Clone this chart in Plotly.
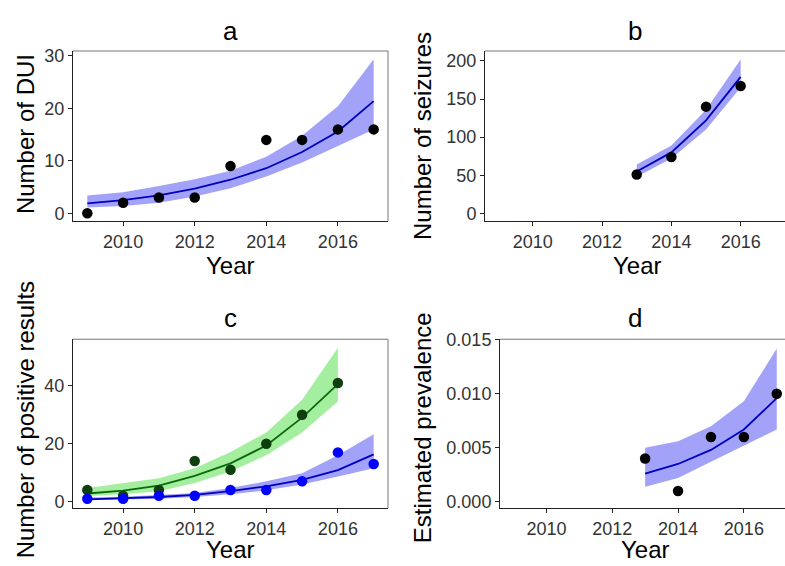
import plotly.graph_objects as go

# panel a: DUI
years_a = [2009, 2010, 2011, 2012, 2013, 2014, 2015, 2016, 2017]
dui_obs = [0, 2, 3, 3, 9, 14, 14, 16, 16]
dui_fit = [1.9, 2.5, 3.4, 4.7, 6.4, 8.6, 11.7, 15.6, 21.4]
dui_lo = [1.1, 1.4, 2.0, 3.2, 4.8, 7.0, 9.7, 12.8, 16.0]
dui_hi = [3.4, 4.0, 5.2, 6.5, 8.1, 10.8, 14.8, 20.4, 29.4]

# panel b: seizures
years_b = [2013, 2014, 2015, 2016]
seiz_obs = [51, 74, 140, 167]
seiz_fit = [55, 80, 122, 179]
seiz_lo = [48, 72, 110, 165]
seiz_hi = [64, 89, 136, 202]

# panel c: positive results (two series)
years_green = [2009, 2010, 2011, 2012, 2013, 2014, 2015, 2016]
green_obs = [4, 2, 4, 14, 11, 20, 30, 41]
green_fit = [2.8, 3.8, 5.5, 8.9, 13.2, 19.4, 29.0, 40.6]
green_lo = [1.9, 2.5, 3.6, 6.4, 10.4, 16.0, 23.9, 34.6]
green_hi = [4.7, 6.4, 8.1, 11.5, 17.1, 23.9, 35.2, 53.2]

years_blue = [2009, 2010, 2011, 2012, 2013, 2014, 2015, 2016, 2017]
blue_obs = [1, 1, 2, 2, 4, 4, 7, 17, 13]
blue_fit = [0.8, 1.1, 1.6, 2.3, 3.6, 5.3, 7.5, 10.9, 16.3]
blue_lo = [0.5, 0.7, 1.0, 1.6, 2.5, 3.9, 5.9, 8.7, 11.5]
blue_hi = [1.4, 1.7, 2.3, 3.0, 4.7, 7.0, 9.8, 16.0, 23.3]

# panel d: prevalence
years_d = [2013, 2014, 2015, 2016, 2017]
prev_obs = [0.004, 0.001, 0.006, 0.006, 0.010]
prev_fit = [0.0026, 0.0035, 0.0048, 0.0067, 0.0096]
prev_lo = [0.0014, 0.0022, 0.0037, 0.0052, 0.0067]
prev_hi = [0.0050, 0.0056, 0.0070, 0.0093, 0.0142]

year_ticks = [2010, 2012, 2014, 2016]

W, H = 785, 566
BAND_BLUE = "rgba(60,60,240,0.48)"
BAND_GREEN = "rgba(90,225,80,0.55)"
LINE_BLUE = "#0000c0"
LINE_GREEN = "#0a6a0a"
FONT = "Liberation Sans, Arial, sans-serif"

fig = go.Figure()


def add_band(x, lo, hi, fit, color, line_color, xa, ya):
    fig.add_trace(go.Scatter(x=x, y=lo, mode="lines", line=dict(width=0),
                             hoverinfo="skip", xaxis=xa, yaxis=ya))
    fig.add_trace(go.Scatter(x=x, y=hi, mode="lines", line=dict(width=0),
                             fill="tonexty", fillcolor=color,
                             hoverinfo="skip", xaxis=xa, yaxis=ya))
    fig.add_trace(go.Scatter(x=x, y=fit, mode="lines",
                             line=dict(color=line_color, width=1.8),
                             xaxis=xa, yaxis=ya))


def add_points(x, y, color, xa, ya):
    fig.add_trace(go.Scatter(x=x, y=y, mode="markers",
                             marker=dict(color=color, size=10.5),
                             xaxis=xa, yaxis=ya))


add_band(years_a, dui_lo, dui_hi, dui_fit, BAND_BLUE, LINE_BLUE, "x", "y")
add_points(years_a, dui_obs, "black", "x", "y")

add_band(years_b, seiz_lo, seiz_hi, seiz_fit, BAND_BLUE, LINE_BLUE, "x2", "y2")
add_points(years_b, seiz_obs, "black", "x2", "y2")

add_band(years_green, green_lo, green_hi, green_fit, BAND_GREEN, LINE_GREEN, "x3", "y3")
add_band(years_blue, blue_lo, blue_hi, blue_fit, BAND_BLUE, LINE_BLUE, "x3", "y3")
add_points(years_green, green_obs, "#0f3f0f", "x3", "y3")
add_points(years_blue, blue_obs, "#0000ff", "x3", "y3")

add_band(years_d, prev_lo, prev_hi, prev_fit, BAND_BLUE, LINE_BLUE, "x4", "y4")
add_points(years_d, prev_obs, "black", "x4", "y4")


# pixel -> paper helpers
def px(v):
    return v / W


def py(v):
    return 1 - v / H


tick_font = dict(family=FONT, size=18, color="#333333")


def xaxis(left, right, xr, anchor):
    return dict(domain=[px(left), min(px(right), 1)], range=xr, anchor=anchor,
                tickvals=year_ticks, showgrid=False, zeroline=False,
                showline=True, linecolor="#222222", linewidth=1,
                ticks="outside", ticklen=4, tickcolor="#222222",
                tickfont=tick_font)


def yaxis(top, bottom, yr, ticks, labels, anchor):
    return dict(domain=[py(bottom), py(top)], range=yr, anchor=anchor,
                tickvals=ticks, ticktext=labels, showgrid=False, zeroline=False,
                showline=True, linecolor="#222222", linewidth=1,
                ticks="outside", ticklen=4, tickcolor="#222222",
                tickfont=tick_font)


fig.update_layout(
    width=W, height=H,
    margin=dict(l=0, r=0, t=0, b=0),
    paper_bgcolor="white", plot_bgcolor="white",
    showlegend=False,
    font=dict(family=FONT, color="black"),
    xaxis=xaxis(73, 388, [2008.6, 2017.4], "y"),
    yaxis=yaxis(43, 217, [-1.47, 30.95], [0, 10, 20, 30], ["0", "10", "20", "30"], "x"),
    xaxis2=xaxis(485, 785, [2008.62, 2017.28], "y2"),
    yaxis2=yaxis(43, 217, [-10, 213], [0, 50, 100, 150, 200],
                 ["0", "50", "100", "150", "200"], "x2"),
    xaxis3=xaxis(73, 388, [2008.6, 2017.4], "y3"),
    yaxis3=yaxis(338, 511, [-2.3, 56.1], [0, 20, 40], ["0", "20", "40"], "x3"),
    xaxis4=xaxis(500, 785, [2008.59, 2017.25], "y4"),
    yaxis4=yaxis(338, 511, [-0.0006, 0.01505], [0, 0.005, 0.010, 0.015],
                 ["0.000", "0.005", "0.010", "0.015"], "x4"),
)

# gray top/right frame lines
frame = dict(color="#777777", width=1)
for xa, ya, right in [("x", "y", True), ("x2", "y2", False),
                      ("x3", "y3", True), ("x4", "y4", False)]:
    fig.add_shape(type="line", xref=xa + " domain", yref=ya + " domain",
                  x0=0, x1=1, y0=1, y1=1, line=frame)
    if right:
        fig.add_shape(type="line", xref=xa + " domain", yref=ya + " domain",
                      x0=1, x1=1, y0=0, y1=1, line=frame)

ann = []
for text, x, y in [("a", 230, 23), ("b", 635, 23), ("c", 230, 316), ("d", 635, 316)]:
    ann.append(dict(text=text, x=px(x), y=py(y), xref="paper", yref="paper",
                    showarrow=False, font=dict(size=26), xanchor="center", yanchor="middle"))
for x, y in [(230, 263), (637, 263), (230, 553), (645, 553)]:
    ann.append(dict(text="Year", x=px(x), y=py(y), xref="paper", yref="paper",
                    showarrow=False, font=dict(size=24), xanchor="center", yanchor="middle"))
for text, x, y in [("Number of DUI", 25, 128), ("Number of seizures", 422, 130),
                   ("Number of positive results", 25, 421), ("Estimated prevalence", 422, 429)]:
    ann.append(dict(text=text, x=px(x), y=py(y), xref="paper", yref="paper",
                    showarrow=False, font=dict(size=24), textangle=-90,
                    xanchor="center", yanchor="middle"))
fig.update_layout(annotations=ann)

# drop the default 8px body margin so the figure fills the window exactly
fig.write_html("out.html", config={"displayModeBar": False},
               post_script="document.body.style.margin='0';")
